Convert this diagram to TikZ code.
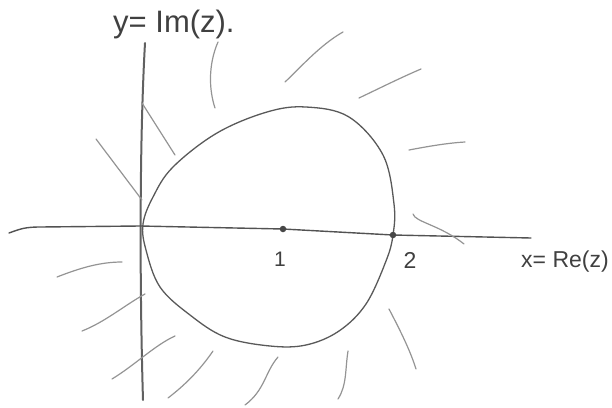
\documentclass[tikz,border=0pt]{standalone}
\usepackage{fontspec}
\setmainfont{Liberation Sans}
\begin{document}
\begin{tikzpicture}[x=1pt,y=-1pt,
  axisline/.style={draw=black!68,line width=1.4pt,line cap=round},
  yaxisline/.style={draw=black!62,line width=2pt,line cap=round},
  regionline/.style={draw=black!65,line width=1.3pt},
  hatchline/.style={draw=black!42,line width=1.2pt,line cap=round},
  dotmark/.style={circle,fill=black!72,inner sep=0pt,minimum size=6.5pt},
  lbl/.style={text=black!75,inner sep=0pt}]
\useasboundingbox (0,0) rectangle (612,407);
% axes
\draw[yaxisline] (145,43) .. controls (139,150) and (140,300) .. (143,400);
\draw[axisline] (9,233) .. controls (20,229) and (25,227) .. (40,227)
  -- (140,226) -- (283,229) -- (393,235) -- (531,238);
% region boundary
\draw[regionline] plot[smooth cycle,tension=0.6] coordinates {
 (143,224) (153,197) (173,167) (217,133) (267,112) (306,107) (349,117)
 (383,155) (394,204) (393,235) (386,261) (366,304) (339,331) (306,345)
 (270,346) (225,337) (190,315) (160,287) (146,250)};
% points
\node[dotmark] (p1) at (283,229) {};
\node[dotmark] (p2) at (393,235) {};
% labels
\node[lbl,anchor=base] (l1) at (280,266) {\fontsize{21}{21}\selectfont 1};
\node[lbl,anchor=base] (l2) at (410,268) {\fontsize{23}{23}\selectfont 2};
\node[lbl,anchor=base west] (xl) at (521,267) {\fontsize{23}{23}\selectfont x= Re(z)};
\node[lbl,anchor=base west] (yl) at (113,32) {\fontsize{31}{31}\selectfont y= Im(z).};
% hatching outside the region
\draw[hatchline] (218,42) .. controls (208,65) and (209,90) .. (215,108);
\draw[hatchline] (142,103) -- (175,155);
\draw[hatchline] (96,139) -- (142,200);
\draw[hatchline] (285,82) .. controls (300,68) and (320,45) .. (343,32);
\draw[hatchline] (359,98) .. controls (380,88) and (400,78) .. (421,69);
\draw[hatchline] (409,150) .. controls (430,146) and (448,143) .. (465,142);
\draw[hatchline] (413,214) .. controls (415,222) and (440,225) .. (464,244);
\draw[hatchline] (389,309) .. controls (400,330) and (410,350) .. (416,369);
\draw[hatchline] (348,351) .. controls (345,370) and (347,385) .. (338,399);
\draw[hatchline] (278,357) .. controls (265,372) and (265,390) .. (245,405);
\draw[hatchline] (213,351) .. controls (200,370) and (185,385) .. (168,398);
\draw[hatchline] (57,277) .. controls (80,268) and (100,262) .. (122,262);
\draw[hatchline] (82,331) .. controls (105,322) and (125,305) .. (145,294);
\draw[hatchline] (112,379) .. controls (135,365) and (155,345) .. (175,336);
\end{tikzpicture}
\end{document}
